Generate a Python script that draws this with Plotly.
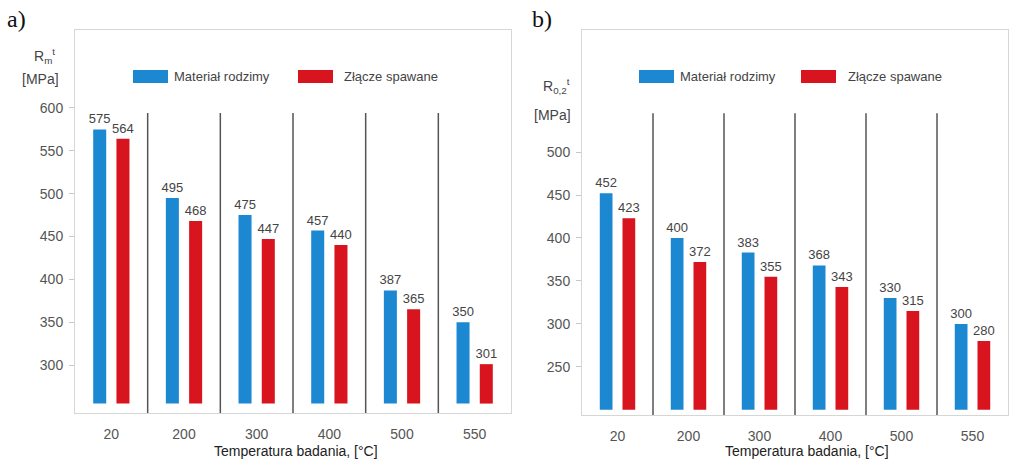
import plotly.graph_objects as go

# ---------------- data ----------------
temps = ["20", "200", "300", "400", "500", "550"]
series_names = ["Materiał rodzimy", "Złącze spawane"]
rm_base = [575, 495, 475, 457, 387, 350]      # a) R_m^t, base material
rm_weld = [564, 468, 447, 440, 365, 301]      # a) R_m^t, welded joint
rp_base = [452, 400, 383, 368, 330, 300]      # b) R_0,2^t, base material
rp_weld = [423, 372, 355, 343, 315, 280]      # b) R_0,2^t, welded joint
ticks_a = [300, 350, 400, 450, 500, 550, 600]
ticks_b = [250, 300, 350, 400, 450, 500]
x_title = "Temperatura badania, [°C]"

# ---------------- style ----------------
W, H = 1010, 464
BLUE = "#1C88D2"
RED = "#D8141E"
FONT = "Liberation Sans, Arial, sans-serif"
FRAME = "#d6d6d6"


def px(x):
    return x / W


def py(y):
    return 1 - y / H


panels = [
    dict(xa="x", ya="y", vals=(rm_base, rm_weld), base=255, rng=[244, 691],
         ticks=ticks_a, sep_top=594, dom_x=[px(75), px(511)], dom_y=[py(413), py(30)]),
    dict(xa="x2", ya="y2", vals=(rp_base, rp_weld), base=200, rng=[194, 642],
         ticks=ticks_b, sep_top=545, dom_x=[px(582), px(1008)], dom_y=[py(415), py(30)]),
]

fig = go.Figure()
shapes = []
for p in panels:
    for vals, name, col in zip(p["vals"], series_names, (BLUE, RED)):
        fig.add_trace(go.Bar(
            x=temps, y=[v - p["base"] for v in vals], base=p["base"],
            name=name, marker=dict(color=col, line=dict(width=0)),
            text=[str(v) for v in vals], textposition="outside",
            textfont=dict(family=FONT, size=13, color="#444"),
            constraintext="none", cliponaxis=False, showlegend=False,
            xaxis=p["xa"], yaxis=p["ya"],
        ))
    for i in range(len(temps) - 1):
        shapes.append(dict(type="line", xref=p["xa"], yref=p["ya"],
                           x0=i + 0.5, x1=i + 0.5, y0=p["rng"][0], y1=p["sep_top"],
                           line=dict(color="#555", width=1.5)))

axis_common = dict(showline=True, mirror=True, linecolor=FRAME, linewidth=1,
                   showgrid=False, zeroline=False)
fig.update_layout(
    width=W, height=H, margin=dict(l=0, r=0, t=0, b=0),
    paper_bgcolor="white", plot_bgcolor="white",
    barmode="group", bargap=0.36, bargroupgap=0.44,
    font=dict(family=FONT, color="#444"),
    xaxis=dict(domain=panels[0]["dom_x"], anchor="y", ticks="",
               tickfont=dict(size=14, color="#555"), ticklabelstandoff=8, **axis_common),
    yaxis=dict(domain=panels[0]["dom_y"], anchor="x", range=panels[0]["rng"],
               tickvals=ticks_a, ticks="outside", ticklen=5, tickcolor="#c8c8c8",
               tickfont=dict(size=14, color="#555"), ticklabelstandoff=3, **axis_common),
    xaxis2=dict(domain=panels[1]["dom_x"], anchor="y2", ticks="",
                tickfont=dict(size=14, color="#555"), ticklabelstandoff=8, **axis_common),
    yaxis2=dict(domain=panels[1]["dom_y"], anchor="x2", range=panels[1]["rng"],
                tickvals=ticks_b, ticks="outside", ticklen=5, tickcolor="#c8c8c8",
                tickfont=dict(size=14, color="#555"), ticklabelstandoff=3, **axis_common),
)

# custom legends (wide swatches as in the reference)
legend_pos = [
    ((133, 168, 172), (298, 333, 342), (70, 83)),
    ((639, 674, 678), (801, 836, 846), (70, 83)),
]
annotations = []
for (b, r, (yt, yb)) in legend_pos:
    for (x0, x1, xt), col, name in ((b, BLUE, series_names[0]), (r, RED, series_names[1])):
        shapes.append(dict(type="rect", xref="paper", yref="paper",
                           x0=px(x0), x1=px(x1), y0=py(yb), y1=py(yt),
                           fillcolor=col, line=dict(width=0)))
        annotations.append(dict(xref="paper", yref="paper", x=px(xt), y=py((yt + yb) / 2),
                                text=name, showarrow=False, xanchor="left", yanchor="middle",
                                font=dict(family=FONT, size=13, color="#444")))

# panel letters
for txt, x in (("a)", 5), ("b)", 530)):
    annotations.append(dict(xref="paper", yref="paper", x=px(x), y=py(4), text=txt,
                            showarrow=False, xanchor="left", yanchor="top",
                            font=dict(family="Liberation Serif, Times New Roman, serif",
                                      size=24, color="#111")))

# y-axis titles
for txt, x, y in (("R<sub>m</sub><sup>t</sup>", 44, 56), ("[MPa]", 40, 79),
                  ("R<sub>0,2</sub><sup>t</sup>", 556, 86), ("[MPa]", 552, 115)):
    annotations.append(dict(xref="paper", yref="paper", x=px(x), y=py(y), text=txt,
                            showarrow=False, xanchor="center", yanchor="middle",
                            font=dict(family=FONT, size=14, color="#444")))

# x-axis titles
for x in (296, 807):
    annotations.append(dict(xref="paper", yref="paper", x=px(x), y=py(451), text=x_title,
                            showarrow=False, xanchor="center", yanchor="middle",
                            font=dict(family=FONT, size=14, color="#222")))

fig.update_layout(shapes=shapes, annotations=annotations)
fig.write_html("out.html")
